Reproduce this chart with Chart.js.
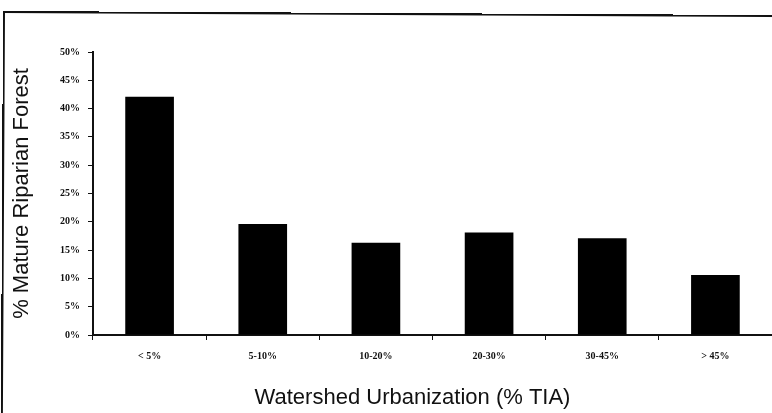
<!DOCTYPE html>
<html>
<head>
<meta charset="utf-8">
<script src="https://cdn.jsdelivr.net/npm/chart.js@4.4.0/dist/chart.umd.min.js"></script>
<style>
  html, body { margin: 0; padding: 0; background: #fff; }
  #wrap { position: relative; width: 772px; height: 413px; overflow: hidden; }
  #chart { position: absolute; left: 0; top: 0; }
  /* scanned page frame */
  #frame {
    position: absolute; left: 3px; top: 11px; width: 800px; height: 420px;
    border-left: 2px solid #111; border-top: 2px solid #111;
    transform: rotate(0.3deg); transform-origin: 0 0;
  }
</style>
</head>
<body>
<div id="wrap">
  <canvas id="chart" width="772" height="413"></canvas>
  <div id="frame"></div>
</div>
<script>
// ---- data ----
const categories = ['< 5%', '5-10%', '10-20%', '20-30%', '30-45%', '> 45%'];
const matureForest = [42.1, 19.6, 16.3, 18.1, 17.1, 10.6];
const yTicks = [0, 5, 10, 15, 20, 25, 30, 35, 40, 45, 50];
const xTitle = 'Watershed Urbanization (% TIA)';
const yTitle = '% Mature Riparian Forest';

const tickFont = { family: '"Liberation Serif", serif', size: 10, weight: 'bold' };
const titleFont = { family: '"Liberation Sans", Arial, sans-serif', size: 22, weight: 'normal' };

// x title sits a little left of the plot centre in the original
const xTitlePlugin = {
  id: 'xTitle',
  afterDraw(chart) {
    const { ctx, chartArea } = chart;
    ctx.save();
    ctx.font = `${titleFont.size}px ${titleFont.family}`;
    ctx.fillStyle = '#111';
    ctx.textAlign = 'center';
    ctx.textBaseline = 'middle';
    ctx.fillText(xTitle, (chartArea.left + chartArea.right) / 2 - 20, chartArea.bottom + 63);
    ctx.restore();
  },
};

new Chart(document.getElementById('chart'), {
  type: 'bar',
  data: {
    labels: categories,
    datasets: [{
      data: matureForest,
      backgroundColor: '#000',
      borderWidth: 0,
      barPercentage: 0.43,
      categoryPercentage: 1.0,
    }],
  },
  plugins: [xTitlePlugin],
  options: {
    responsive: false,
    animation: false,
    layout: { padding: { top: 52, right: 0, left: 0, bottom: 0 } },
    plugins: {
      legend: { display: false },
      tooltip: { enabled: false },
    },
    scales: {
      x: {
        grid: { display: true, drawOnChartArea: false, color: '#111', tickLength: 5, offset: true },
        border: { color: '#111', width: 2 },
        ticks: { color: '#111', font: tickFont, maxRotation: 0, padding: 10 },
        afterFit(scale) { scale.height = 78; },
      },
      y: {
        min: 0,
        max: 50,
        afterBuildTicks(scale) { scale.ticks = yTicks.map(v => ({ value: v })); },
        grid: { display: true, drawOnChartArea: false, color: '#111', tickLength: 5 },
        border: { color: '#111', width: 2 },
        ticks: { color: '#111', font: tickFont, padding: 8, callback: v => v + '%' },
        title: {
          display: true,
          text: yTitle,
          color: '#111',
          font: titleFont,
          padding: { top: 9, bottom: 0 },
        },
        afterFit(scale) { scale.width = 93; },
      },
    },
  },
});
</script>
</body>
</html>
